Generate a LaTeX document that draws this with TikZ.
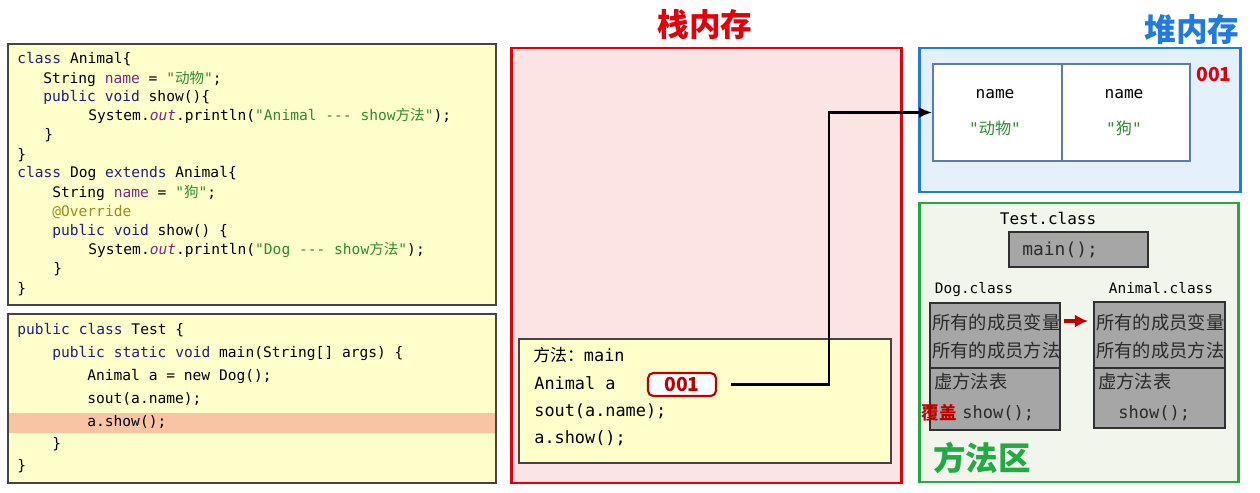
\documentclass[tikz,border=0pt]{standalone}
\usepackage{fontspec}
\setmonofont{DejaVu Sans Mono}
\newfontfamily\cjk{Noto Sans CJK SC}
\usepackage{xcolor}
\definecolor{codebg}{HTML}{FFFFCC}
\definecolor{codeframe}{HTML}{444444}
\definecolor{hilite}{HTML}{F9C4A4}
\definecolor{stackred}{HTML}{E3000B}
\definecolor{stackbg}{HTML}{FDE4E4}
\definecolor{heapblue}{HTML}{1F7BE0}
\definecolor{heapbg}{HTML}{E4F1FC}
\definecolor{cellframe}{HTML}{5A7CB0}
\definecolor{methgreen}{HTML}{22AA44}
\definecolor{methbg}{HTML}{F1F5EC}
\definecolor{boxgray}{HTML}{A6A6A6}
\definecolor{boxframe}{HTML}{303030}
\definecolor{refred}{HTML}{C00000}
\definecolor{kwnavy}{HTML}{20207A}
\definecolor{fieldpurple}{HTML}{7B2A80}
\definecolor{strgreen}{HTML}{2E8B2E}
\definecolor{annolive}{HTML}{9A8A20}
\definecolor{ink}{HTML}{2A2A2A}
\usetikzlibrary{arrows.meta,positioning,calc}
\newcommand{\zh}[1]{{\cjk #1}}
\newcommand{\kw}[1]{\textcolor{kwnavy}{#1}}
\newcommand{\fld}[1]{\textcolor{fieldpurple}{#1}}
\newcommand{\jstr}[1]{\textcolor{strgreen}{#1}}
\newcommand{\anno}[1]{\textcolor{annolive}{#1}}

\begin{document}
\begin{tikzpicture}[x=0.02cm,y=-0.02cm,
  code/.style={anchor=west,inner sep=0,text height=6.5pt,text depth=2pt,
    font=\ttfamily\fontsize{8.3}{10}\selectfont},
  frametxt/.style={anchor=west,inner sep=0,text height=7.5pt,text depth=2.3pt,
    font=\ttfamily\fontsize{9.6}{11}\selectfont},
  graytxt/.style={anchor=west,inner sep=0,text height=8pt,text depth=2pt,ink,
    font=\ttfamily\fontsize{9.7}{11}\selectfont},
  label/.style={inner sep=0,font=\ttfamily\fontsize{8.2}{10}\selectfont},
  title/.style={inner sep=0,font=\cjk\bfseries\fontsize{18}{20}\selectfont},
  cell/.style={draw=cellframe,line width=1.1pt,fill=white,inner sep=0,
    minimum width=2.58cm,minimum height=1.94cm},
  graybox/.style={draw=boxframe,line width=0.9pt,fill=boxgray,inner sep=0,minimum width=2.6cm}]
\useasboundingbox (0,0) rectangle (1260,493);

% code panels
\draw[codeframe,line width=0.9pt,fill=codebg] (8,44) rectangle (496,305);
\node[code] (a1) at (17,60) {\kw{class} Animal\{};
\node[code] (a2) at (43,80) {String \fld{name} = \jstr{"\zh{动物}"};};
\node[code] (a3) at (43,98) {\kw{public void} show()\{};
\node[code] (a4) at (88,117) {System.\fld{\textit{out}}.println(\jstr{"Animal --- show\zh{方法}"});};
\node[code] (a5) at (44,136) {\}};
\node[code] (a6) at (17,156) {\}};
\node[code] (a7) at (17,174) {\kw{class} Dog \kw{extends} Animal\{};
\node[code] (a8) at (52,194) {String \fld{name} = \jstr{"\zh{狗}"};};
\node[code] (a9) at (52,213) {\anno{@Override}};
\node[code] (a10) at (52,232) {\kw{public void} show() \{};
\node[code] (a11) at (88,251) {System.\fld{\textit{out}}.println(\jstr{"Dog --- show\zh{方法}"});};
\node[code] (a12) at (53,270) {\}};
\node[code] (a13) at (17,290) {\}};

\draw[codeframe,line width=0.9pt,fill=codebg] (8,314) rectangle (496,483);
\fill[hilite] (9,413) rectangle (495,433);
\node[code] (t1) at (17,331) {\kw{public class} Test \{};
\node[code] (t2) at (52,354) {\kw{public static void} main(String[] args) \{};
\node[code] (t3) at (87,377) {Animal a = new Dog();};
\node[code] (t4) at (87,400) {sout(a.name);};
\node[code] (t5) at (87,423) {a.show();};
\node[code] (t6) at (52,445) {\}};
\node[code] (t7) at (17,467) {\}};

% stack
\node[title,stackred] (stackT) at (705,25) {栈内存};
\draw[stackred,line width=1.7pt,fill=stackbg] (511,48) rectangle (901,483);
\draw[codeframe,line width=0.7pt,fill=codebg] (519,339) rectangle (891,463);
\node[frametxt] (m1) at (533,357) {\zh{方法：}main};
\node[frametxt] (m2) at (534,385) {Animal a};
\node[draw=refred,line width=1.2pt,fill=white,rounded corners=3pt,inner sep=0,
  minimum width=1.36cm,minimum height=0.46cm,text=refred,
  font=\cjk\bfseries\fontsize{11}{12}\selectfont] (ref) at (682,384.5) {001};
\node[frametxt] (m3) at (534,412) {sout(a.name);};
\node[frametxt] (m4) at (534,439) {a.show();};

% heap
\node[title,heapblue] (heapT) at (1192,30) {堆内存};
\draw[heapblue,line width=1.7pt,fill=heapbg] (919,48) rectangle (1240,192);
\node[cell] (objL) at (997.5,112.5) {};
\node[cell,minimum width=2.56cm] (objR) at (1126,112.5) {};
\node[label,font=\ttfamily\fontsize{9.2}{10}\selectfont] (nL) at (995,94) {name};
\node[label,font=\ttfamily\fontsize{9.2}{10}\selectfont,strgreen] (vL) at (995,128) {"\zh{动物}"};
\node[label,font=\ttfamily\fontsize{9.2}{10}\selectfont] (nR) at (1124,94) {name};
\node[label,font=\ttfamily\fontsize{9.2}{10}\selectfont,strgreen] (vR) at (1124,128) {"\zh{狗}"};
\node[inner sep=0,stackred,font=\cjk\bfseries\fontsize{11}{12}\selectfont] (addr) at (1214,74) {001};

% reference arrow
\coordinate (bend) at (829,0);
\draw[line width=1.4pt,-{Latex[length=2.6mm,width=2.2mm]},shorten <=8pt]
  (ref.east) -- (ref.east -| bend) |- (objL.west);

% method area
\draw[methgreen,line width=1.7pt,fill=methbg] (919,203) rectangle (1238,482);
\node[label,font=\ttfamily\fontsize{9.1}{10}\selectfont] (testL) at (1048,218) {Test.class};
\node[graybox,minimum width=2.78cm,minimum height=0.7cm] (mainbox) at (1078.5,249.5) {};
\node[graytxt,font=\ttfamily\fontsize{10.2}{11}\selectfont] (mainT) at (1022,250) {main();};

\node[label] (dogL) at (974,290) {Dog.class};
\node[graybox,minimum height=1.3cm] (dogTop) at (995,335.5) {};
\node[graybox,minimum height=1.24cm] (dogBot) at (995,399) {};
\node[label] (anL) at (1161,288) {Animal.class};
\node[graybox,minimum width=2.62cm,minimum height=1.32cm] (anTop) at (1159.5,335) {};
\node[graybox,minimum width=2.62cm,minimum height=1.2cm] (anBot) at (1159.5,398) {};

\node[graytxt,font=\cjk\fontsize{10.4}{11}\selectfont] (dogv) at (932,324) {所有的成员变量};
\node[graytxt,font=\cjk\fontsize{10.4}{11}\selectfont] (dogm) at (932,352) {所有的成员方法};
\node[graytxt,font=\cjk\fontsize{10.4}{11}\selectfont] (dogt) at (934,383) {虚方法表};
\node[inner sep=0,anchor=east,refred,font=\cjk\bfseries\fontsize{10}{11}\selectfont] (cover) at (957,413) {覆盖};
\node[graytxt] (dogs) at (962,413) {show();};
\node[graytxt,font=\cjk\fontsize{10.4}{11}\selectfont] (anv) at (1096,324) {所有的成员变量};
\node[graytxt,font=\cjk\fontsize{10.4}{11}\selectfont] (anm) at (1096,352) {所有的成员方法};
\node[graytxt,font=\cjk\fontsize{10.4}{11}\selectfont] (ant) at (1098,383) {虚方法表};
\node[graytxt] (ans) at (1118,413) {show();};

\draw[refred,line width=1.8pt,-{Latex[length=2.6mm,width=2.6mm]},shorten <=2pt,shorten >=3pt]
  (dogTop.east |- 0,321) -- (anTop.west |- 0,321);

\node[title,methgreen,font=\cjk\bfseries\fontsize{18.5}{20}\selectfont] (methT) at (982,458) {方法区};
\end{tikzpicture}
\end{document}
